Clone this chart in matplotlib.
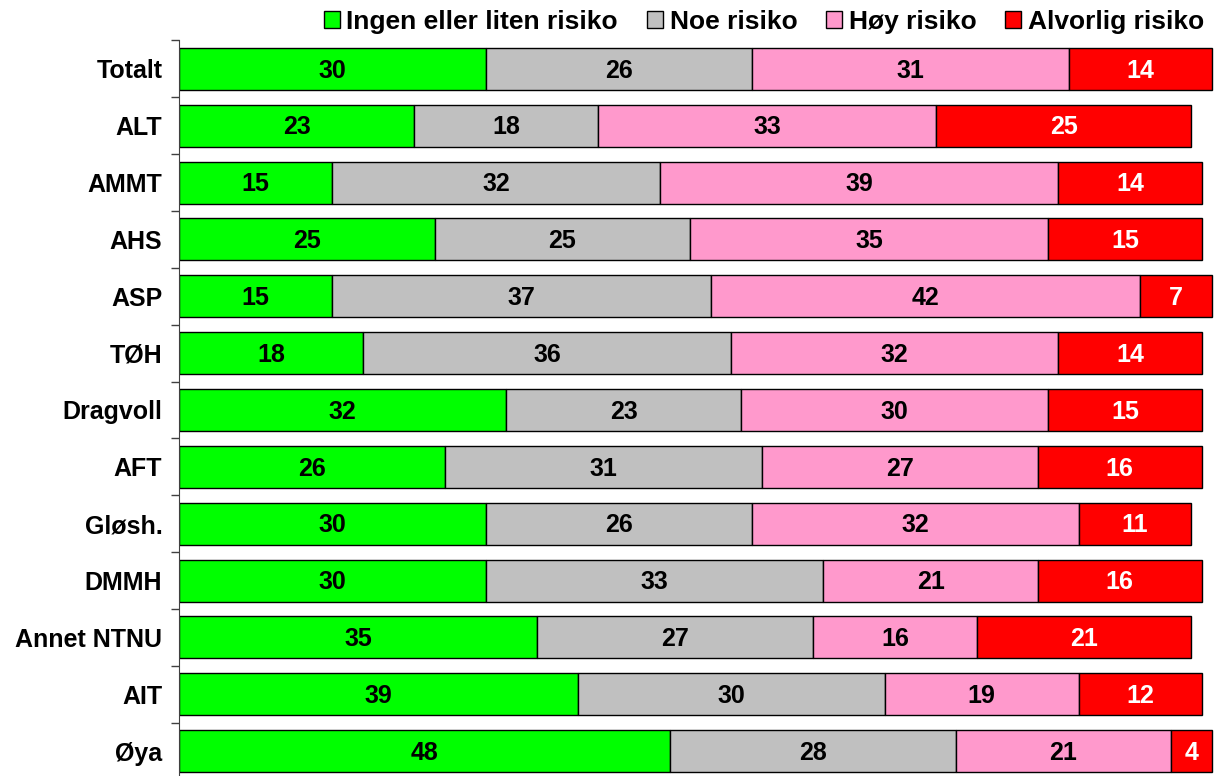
import matplotlib.pyplot as plt
import numpy as np

plt.rcParams['font.family'] = ['Liberation Sans', 'DejaVu Sans']
plt.rcParams['font.weight'] = 'bold'

categories = ['Totalt', 'ALT', 'AMMT', 'AHS', 'ASP', 'TØH', 'Dragvoll',
              'AFT', 'Gløsh.', 'DMMH', 'Annet NTNU', 'AIT', 'Øya']
ingen = [30, 23, 15, 25, 15, 18, 32, 26, 30, 30, 35, 39, 48]
noe = [26, 18, 32, 25, 37, 36, 23, 31, 26, 33, 27, 30, 28]
hoy = [31, 33, 39, 35, 42, 32, 30, 27, 32, 21, 16, 19, 21]
alvorlig = [14, 25, 14, 15, 7, 14, 15, 16, 11, 16, 21, 12, 4]

series = [
    ('Ingen eller liten risiko', ingen, '#00FF00', 'black'),
    ('Noe risiko', noe, '#C0C0C0', 'black'),
    ('Høy risiko', hoy, '#FF99CC', 'black'),
    ('Alvorlig risiko', alvorlig, '#FF0000', 'white'),
]

fig = plt.figure(figsize=(12.2, 7.76), dpi=100)
ax = fig.add_axes([179 / 1220, -3.5 / 776, 1 - 179 / 1220, (776 - 40.5 + 3.5) / 776])

y = np.arange(len(categories))
left = np.zeros(len(categories))
for name, vals, color, tcolor in series:
    vals = np.array(vals, dtype=float)
    bars = ax.barh(y, vals, left=left, height=0.74, color=color,
                   edgecolor='black', linewidth=1, label=name)
    for rect, v in zip(bars, vals):
        ax.text(rect.get_x() + rect.get_width() / 2, rect.get_y() + rect.get_height() / 2 + 0.03,
                f'{int(v)}', ha='center', va='center', color=tcolor,
                fontsize=18, fontweight='bold')
    left += vals

ax.set_xlim(0, 101.8)
ax.set_ylim(len(categories) - 0.5, -0.5)
ax.set_yticks(y)
ax.set_yticklabels(categories, fontsize=18, fontweight='bold')
ax.tick_params(axis='y', which='major', length=0, pad=12)
ax.set_yticks(np.arange(len(categories) + 1) - 0.5, minor=True)
ax.tick_params(axis='y', which='minor', length=6, width=1, color='#404040')
ax.set_xticks([])
for s in ['top', 'right', 'bottom']:
    ax.spines[s].set_visible(False)
ax.spines['left'].set_color('#404040')

fig.legend(loc='upper right', bbox_to_anchor=(1.0, 1.008), ncol=4, frameon=False,
           handlelength=0.6, handleheight=0.6, handletextpad=0.25,
           columnspacing=1.1, borderaxespad=0.2,
           prop={'weight': 'bold', 'size': 19})

fig.savefig('out.png', dpi=100)
